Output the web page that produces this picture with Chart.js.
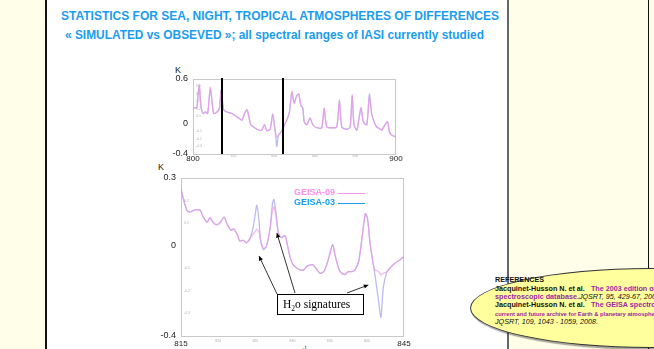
<!DOCTYPE html>
<html>
<head>
<meta charset="utf-8">
<script src="https://cdn.jsdelivr.net/npm/chart.js@4.4.1/dist/chart.umd.min.js"></script>
<style>
html, body { margin: 0; padding: 0; }
body { width: 654px; height: 349px; overflow: hidden; position: relative; background: #fffee9; font-family: "Liberation Sans", Arial, sans-serif; }
.abs { position: absolute; white-space: nowrap; }
#panneau { position: absolute; left: 45px; top: -2px; width: 460px; height: 360px; background: #fff; border-left: 2px solid #111; border-right: 2px solid #666; }
#panneau2 { position: absolute; left: 507px; top: -2px; width: 141px; height: 360px; border-right: 1px solid #111; }
.titre { font-weight: bold; font-size: 12.5px; line-height: 14px; color: #1a9cf0; transform-origin: left center; }
.lbl { font-size: 9px; color: #222; line-height: 10px; }
#ellipse { position: absolute; left: 470px; top: 268px; width: 360px; height: 78px; border-radius: 50%; background: #ffff9e; border: 1px solid #333; box-shadow: 1px 2px 1px rgba(0,0,0,0.35); }
.ref { font-size: 7.2px; line-height: 8px; color: #111; }
.ref b.v { color: #99289e; }
.ref i { font-style: italic; }
</style>
</head>
<body>
<div id="panneau"></div>
<div id="panneau2"></div>

<div class="abs titre" style="left:61px; top:9px;" data-fit="438">STATISTICS FOR SEA, NIGHT, TROPICAL ATMOSPHERES OF DIFFERENCES</div>
<div class="abs titre" style="left:65px; top:28px;" data-fit="419">« SIMULATED vs OBSEVED »; all spectral ranges of IASI currently studied</div>

<div class="abs lbl" style="left:175px; top:65px;">K</div>
<div class="abs lbl" style="left:158px; top:162px;">K</div>
<div class="abs lbl" style="left:292px; top:343px; font-size:8px;">cm<sup style="font-size:5px;">-1</sup></div>

<div class="abs" style="left:140px; top:60px; width:270px; height:110px;"><canvas id="graf-haut" width="270" height="110"></canvas></div>
<div class="abs" style="left:140px; top:165px; width:280px; height:184px;"><canvas id="graf-bas" width="280" height="184"></canvas></div>

<div id="ellipse"></div>
<div class="abs ref" style="left:495px; top:276px;"><b>REFERENCES</b></div>
<div class="abs ref" style="left:495px; top:284.5px;"><b>Jacquinet-Husson N. et al.</b>&nbsp;&nbsp; <b class="v">The 2003 edition of the GEISA/IASI</b></div>
<div class="abs ref" style="left:495px; top:293px;"><b class="v">spectroscopic database.</b><i>JQSRT, 95, 429-67, 2005.</i></div>
<div class="abs ref" style="left:495px; top:301px;"><b>Jacquinet-Husson N. et al.</b>&nbsp;&nbsp; <b class="v">The GEISA spectroscopic database:</b></div>
<div class="abs ref" style="left:495px; top:309.5px; font-size:5.8px;"><b class="v">current and future archive for Earth &amp; planetary atmosphere studies.</b></div>
<div class="abs ref" style="left:495px; top:317.5px;"><i>JQSRT, 109, 1043 - 1059, 2008.</i></div>

<script>
// ==================== DADOS ====================
// top panel: 800-900 cm-1
const topWn = [800.0, 801.1, 802.0, 803.0, 803.9, 804.9, 806.1, 807.2, 808.5, 809.2,
    810.2, 811.8, 813.0, 813.9, 815.1, 816.7, 819.2, 820.8, 822.5, 824.1,
    825.4, 826.6, 827.5, 828.5, 829.8, 832.3, 833.9, 835.2, 836.4, 838.0,
    839.3, 840.5, 841.3, 842.1, 843.8, 845.1, 846.2, 847.5, 848.7, 849.8,
    851.1, 852.1, 853.1, 854.1, 854.8, 856.1, 857.7, 859.0, 861.0, 863.4,
    864.6, 865.9, 868.4, 870.8, 872.1, 873.3, 875.7, 877.4, 878.4, 879.3,
    880.7, 881.8, 882.8, 883.9, 885.6, 886.9, 888.0, 889.2, 890.5, 891.8,
    893.0, 895.7, 896.7, 897.9, 900.0];
const top09 = [0.23, 0.21, 0.23, 0.53, 0.25, 0.14, 0.16, 0.14, 0.49, 0.34,
    0.14, 0.16, 0.21, 0.45, 0.19, 0.16, 0.14, 0.11, 0.08, 0.05,
    0.14, 0.19, 0.10, -0.01, -0.04, -0.08, -0.08, -0.01, -0.09, -0.07,
    0.13, -0.10, -0.17, -0.15, -0.09, -0.01, 0.05, 0.16, 0.44, 0.28,
    0.38, 0.40, 0.25, 0.21, 0.03, -0.01, 0.08, -0.01, -0.05, -0.05,
    0.21, -0.04, -0.05, -0.04, 0.32, -0.04, -0.07, -0.04, 0.39, -0.01,
    -0.08, 0.08, 0.22, 0.03, -0.01, 0.36, 0.14, 0.03, -0.04, -0.06,
    -0.08, 0.03, -0.10, -0.15, -0.17];
const top03 = [0.23, 0.21, 0.23, 0.51, 0.25, 0.14, 0.16, 0.14, 0.47, 0.34,
    0.14, 0.16, 0.21, 0.45, 0.19, 0.16, 0.14, 0.11, 0.08, 0.05,
    0.14, 0.19, 0.10, -0.01, -0.04, -0.08, -0.08, -0.01, -0.09, -0.07,
    0.13, -0.10, -0.30, -0.15, -0.09, -0.01, 0.05, 0.16, 0.42, 0.28,
    0.38, 0.40, 0.25, 0.21, 0.03, -0.01, 0.08, -0.01, -0.05, -0.05,
    0.21, -0.04, -0.05, -0.04, 0.32, -0.04, -0.07, -0.04, 0.37, -0.01,
    -0.08, 0.08, 0.21, 0.03, -0.01, 0.40, 0.14, 0.03, -0.04, -0.06,
    -0.08, 0.03, -0.10, -0.15, -0.17];
const topYTicks = [-0.4, -0.3, -0.2, -0.1, 0, 0.1, 0.2, 0.3, 0.4, 0.5, 0.6];
const topYMajor = [-0.4, 0, 0.6];
const topXTicks = [800, 820, 840, 860, 880, 900];
const topXMajor = [800, 900];
const zoomRange = [815, 845];

// bottom panel: 815-845 cm-1
const botWn = [815.0, 815.3, 815.8, 816.2, 816.7, 817.1, 817.6, 817.9, 818.5, 818.9,
    819.4, 819.8, 820.3, 820.8, 821.2, 821.7, 822.1, 822.6, 822.9, 823.4,
    823.8, 824.3, 824.7, 825.0, 825.2, 825.5, 825.7, 826.1, 826.5, 827.0,
    827.3, 827.5, 827.8, 828.1, 828.5, 829.0, 829.3, 829.7, 830.1, 830.6,
    831.0, 831.5, 831.9, 832.4, 832.8, 833.3, 833.7, 834.2, 834.6, 835.0,
    835.4, 835.7, 836.2, 836.6, 837.1, 837.5, 838.0, 838.4, 838.9, 839.3,
    839.8, 840.1, 840.4, 840.8, 841.1, 841.6, 841.9, 842.2, 842.7, 843.1,
    843.8, 844.5, 845.0];
const bot09 = [0.255, 0.21, 0.157, 0.149, 0.157, 0.16, 0.157, 0.134, 0.104, 0.124,
    0.10, 0.093, 0.104, 0.127, 0.096, 0.069, 0.074, 0.048, 0.021, 0.024,
    0.013, 0.033, 0.051, 0.063, 0.074, 0.059, 0.028, -0.012, -0.002, 0.081,
    0.157, 0.172, 0.127, 0.058, 0.036, 0.044, 0.006, -0.054, -0.085, -0.10,
    -0.107, -0.107, -0.092, -0.085, -0.085, -0.107, -0.122, -0.115, -0.085, -0.039,
    0.006, -0.039, -0.10, -0.122, -0.127, -0.115, -0.115, -0.107, -0.07, 0.021,
    0.142, 0.119, 0.021, -0.07, -0.107, -0.115, -0.13, -0.122, -0.115, -0.10,
    -0.077, -0.062, -0.047];
const bot03 = [0.255, 0.21, 0.157, 0.149, 0.157, 0.16, 0.157, 0.134, 0.104, 0.124,
    0.10, 0.093, 0.104, 0.127, 0.096, 0.069, 0.074, 0.048, 0.021, 0.024,
    0.013, 0.033, 0.081, 0.142, 0.179, 0.111, 0.021, -0.017, -0.002, 0.081,
    0.187, 0.205, 0.142, 0.058, 0.036, 0.044, 0.006, -0.054, -0.085, -0.10,
    -0.107, -0.107, -0.092, -0.085, -0.085, -0.107, -0.122, -0.115, -0.085, -0.039,
    0.006, -0.039, -0.10, -0.122, -0.127, -0.115, -0.115, -0.107, -0.07, 0.021,
    0.142, 0.119, 0.021, -0.07, -0.13, -0.25, -0.318, -0.19, -0.115, -0.10,
    -0.077, -0.062, -0.047];
const botYTicks = [-0.4, -0.3, -0.2, -0.1, 0, 0.1, 0.2, 0.3];
const botYMajor = [-0.4, 0, 0.3];
const botXTicks = [815, 820, 825, 830, 835, 840, 845];
const botXMajor = [815, 845];

const serieLabels = ['GEISA-09', 'GEISA-03'];
const h2oLabel = 'H₂o signatures';
const h2oTargets = [[825.5, -0.046], [827.9, 0.056], [840.2, -0.174]];

const corRosa = 'rgba(240, 150, 225, 0.65)';
const corAzul = 'rgba(150, 150, 235, 0.65)';

// ==================== PLUGINS ====================
const moldura = {
    id: 'moldura',
    beforeDatasetsDraw(chart) {
        const a = chart.chartArea, ctx = chart.ctx;
        ctx.save();
        ctx.strokeStyle = '#c9c9c9';
        ctx.lineWidth = 1;
        ctx.strokeRect(a.left + 0.5, a.top + 0.5, a.right - a.left - 1, a.bottom - a.top);
        ctx.restore();
    }
};

const linhasZoom = {
    id: 'linhasZoom',
    afterDatasetsDraw(chart) {
        const a = chart.chartArea, ctx = chart.ctx, x = chart.scales.x;
        ctx.save();
        ctx.strokeStyle = '#000';
        ctx.lineWidth = 2;
        zoomRange.forEach(v => {
            const px = Math.round(x.getPixelForValue(v)) - 1;
            ctx.beginPath();
            ctx.moveTo(px, a.top - 1);
            ctx.lineTo(px, a.bottom);
            ctx.stroke();
        });
        ctx.restore();
    }
};

function seta(ctx, x1, y1, x2, y2) {
    const ang = Math.atan2(y2 - y1, x2 - x1);
    ctx.beginPath();
    ctx.moveTo(x1, y1);
    ctx.lineTo(x2, y2);
    ctx.stroke();
    ctx.beginPath();
    ctx.moveTo(x2, y2);
    ctx.lineTo(x2 - 5 * Math.cos(ang - 0.45), y2 - 5 * Math.sin(ang - 0.45));
    ctx.lineTo(x2 - 5 * Math.cos(ang + 0.45), y2 - 5 * Math.sin(ang + 0.45));
    ctx.closePath();
    ctx.fill();
}

const legendaH2o = {
    id: 'legendaH2o',
    afterDatasetsDraw(chart) {
        const a = chart.chartArea, ctx = chart.ctx;
        const sx = chart.scales.x, sy = chart.scales.y;
        ctx.save();
        // legenda (texto + linha)
        ctx.font = 'bold 9px "Liberation Sans", Arial, sans-serif';
        ctx.textAlign = 'right';
        ctx.textBaseline = 'middle';
        const cores = ['#ff8fe6', '#1a9cf0'];
        chart.data.datasets.forEach((ds, i) => {
            const y = a.top + 15 + i * 10;
            ctx.fillStyle = cores[i];
            ctx.fillText(ds.label, a.right - 69, y);
            ctx.strokeStyle = cores[i];
            ctx.lineWidth = 1;
            ctx.beginPath();
            ctx.moveTo(a.right - 66, y + 0.5);
            ctx.lineTo(a.right - 39, y + 0.5);
            ctx.stroke();
        });
        // caixa H2O + setas
        const bx = a.left + 96, by = a.top + 116, bw = 86, bh = 20;
        ctx.strokeStyle = '#000';
        ctx.fillStyle = '#000';
        ctx.lineWidth = 0.8;
        const inicios = [[bx, by], [bx + 18, by - 1], [bx + 70, by - 1]];
        h2oTargets.forEach((t, i) => {
            seta(ctx, inicios[i][0], inicios[i][1], sx.getPixelForValue(t[0]), sy.getPixelForValue(t[1]));
        });
        ctx.fillStyle = '#fff';
        ctx.fillRect(bx, by, bw, bh);
        ctx.lineWidth = 1;
        ctx.strokeRect(bx + 0.5, by + 0.5, bw, bh);
        ctx.fillStyle = '#000';
        ctx.textAlign = 'left';
        ctx.textBaseline = 'alphabetic';
        ctx.font = '11.5px "Liberation Serif", "Times New Roman", serif';
        let x = bx + 6;
        const base = by + 14;
        ctx.fillText('H', x, base);
        x += ctx.measureText('H').width;
        ctx.font = '7.5px "Liberation Serif", serif';
        ctx.fillText('2', x, base + 2.5);
        x += ctx.measureText('2').width;
        ctx.font = '11.5px "Liberation Serif", "Times New Roman", serif';
        ctx.fillText(h2oLabel.slice(2), x, base);
        ctx.restore();
    }
};

// ==================== GRAFICOS ====================
function fmt(v) {
    return v === 0 ? '0' : v.toFixed(1);
}

function montarEscalas(xMin, xMax, xTicks, xMajor, yMin, yMax, yTicks, yMajor, yWidth, xHeight, yPad, xPad) {
    const isMajor = (list, v) => list.some(m => Math.abs(m - v) < 1e-6);
    const tickMajor = c => !c.tick || isMajor(xMajor, c.tick.value);
    const semGrade = { display: false, drawTicks: false, tickLength: 0 };
    return {
        x: {
            type: 'linear', min: xMin, max: xMax,
            afterBuildTicks: s => { s.ticks = xTicks.map(v => ({ value: v })); },
            afterFit: s => { s.height = xHeight; },
            grid: semGrade, border: { display: false },
            ticks: {
                autoSkip: false, maxRotation: 0, padding: xPad,
                callback: v => String(v),
                font: c => ({ size: tickMajor(c) ? 8 : 3.5, family: '"Liberation Sans", Arial' }),
                color: c => tickMajor(c) ? '#222' : '#aaa'
            }
        },
        y: {
            position: 'left', min: yMin, max: yMax, weight: 2,
            afterBuildTicks: s => { s.ticks = yTicks.map(v => ({ value: v })); },
            afterFit: s => { s.width = yWidth; },
            grid: semGrade, border: { display: false },
            ticks: {
                padding: yPad,
                callback: v => isMajor(yMajor, v) ? fmt(v) : '',
                font: { size: 9, family: '"Liberation Sans", Arial' },
                color: '#222'
            }
        },
        y2: {
            position: 'left', min: yMin, max: yMax, weight: 0,
            afterBuildTicks: s => { s.ticks = yTicks.map(v => ({ value: v })); },
            afterFit: s => { s.width = 0; },
            grid: semGrade, border: { display: false },
            ticks: {
                mirror: true, padding: 3,
                callback: v => isMajor(yMajor, v) ? '' : fmt(v),
                font: { size: 3.5, family: '"Liberation Sans", Arial' },
                color: '#b0b0b0'
            }
        }
    };
}

function datasets(wn, s09, s03) {
    return [
        { label: serieLabels[0], data: wn.map((x, i) => ({ x: x, y: s09[i] })), borderColor: corRosa, borderWidth: 1.3, tension: 0.25, pointRadius: 0 },
        { label: serieLabels[1], data: wn.map((x, i) => ({ x: x, y: s03[i] })), borderColor: corAzul, borderWidth: 1.3, tension: 0.25, pointRadius: 0 }
    ];
}

const opcoesBase = {
    responsive: false,
    animation: false,
    devicePixelRatio: 1,
    plugins: { legend: { display: false }, tooltip: { enabled: false } }
};

try {
    new Chart(document.getElementById('graf-haut'), {
        type: 'line',
        data: { datasets: datasets(topWn, top09, top03) },
        options: Object.assign({}, opcoesBase, {
            layout: { padding: { left: 0, top: 19, right: 14, bottom: 0 } },
            scales: montarEscalas(800, 900, topXTicks, topXMajor, -0.4, 0.6, topYTicks, topYMajor, 53, 16, 5, 0)
        }),
        plugins: [moldura, linhasZoom]
    });

    new Chart(document.getElementById('graf-bas'), {
        type: 'line',
        data: { datasets: datasets(botWn, bot09, bot03) },
        options: Object.assign({}, opcoesBase, {
            layout: { padding: { left: 0, top: 13, right: 16, bottom: 0 } },
            scales: montarEscalas(815, 845, botXTicks, botXMajor, -0.4, 0.3, botYTicks, botYMajor, 41, 13, 5, 3)
        }),
        plugins: [moldura, legendaH2o]
    });
} catch (e) {
    console.error('Erro ao desenhar graficos:', e);
}

// ajusta largura dos titulos
document.querySelectorAll('[data-fit]').forEach(el => {
    const w = el.getBoundingClientRect().width;
    el.style.transform = 'scaleX(' + (parseFloat(el.dataset.fit) / w) + ')';
});
</script>
</body>
</html>
